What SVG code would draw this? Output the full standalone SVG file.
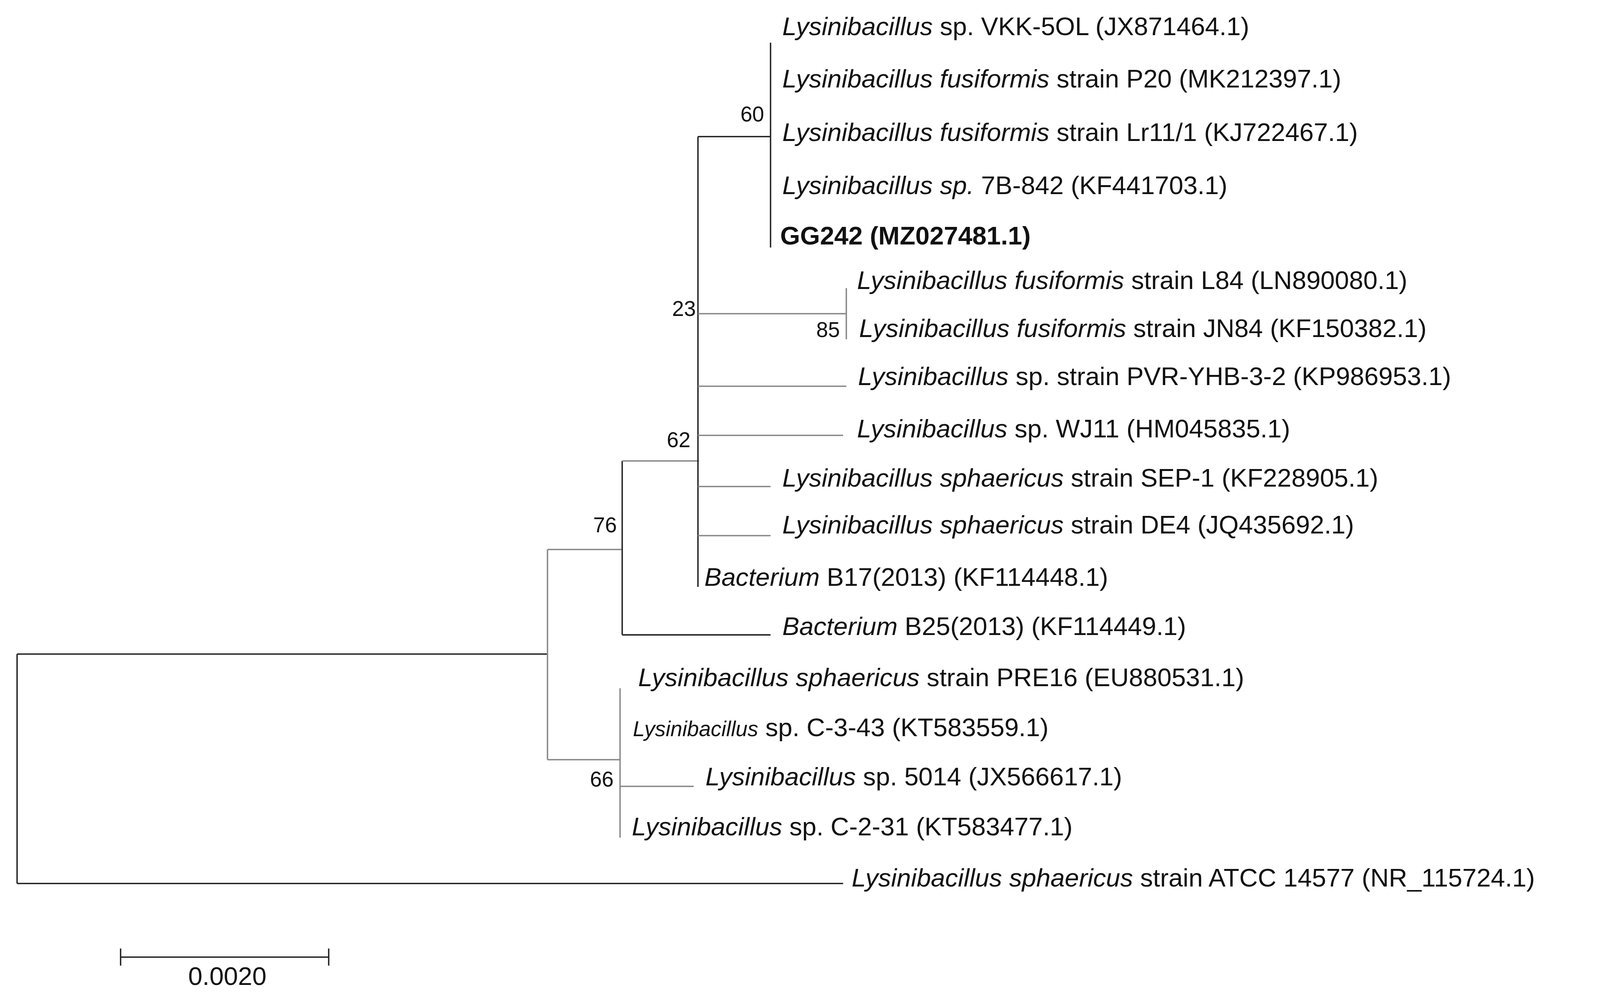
<svg xmlns="http://www.w3.org/2000/svg" width="4284" height="2558" viewBox="0 0 4284 2558">
<style>
.t{font-family:"Liberation Sans",Arial,sans-serif;font-size:24px;fill:#111}
.b{font-family:"Liberation Sans",Arial,sans-serif;font-size:20px;fill:#111;text-anchor:end}
.e{stroke:#222;stroke-width:1.3;fill:none}
.g{stroke:#888;stroke-width:1.3;fill:none}
</style>
<rect width="4284" height="2558" fill="#fff"/>
<g transform="scale(2.7321)">
<g id="connectors">
<path class="e" d="M16 613V828M16 613H513M16 828H790"/>
<path class="g" d="M513 515V712M513 515H583M513 712H581"/>
<path class="e" d="M583 432V595M583 595H722"/>
<path class="g" d="M583 432H655"/>
<path class="e" d="M654 128V550M654 128H722"/>
<path class="g" d="M654 294H793M654 362H793M654 408H790M654 456H722M654 502H722"/>
<path class="e" d="M722 40V232"/>
<path class="g" d="M793 270V318"/>
<path class="g" d="M581 645V785M581 737H650"/>
<path class="e" d="M113 897H308M113 889V905M308 889V905"/>
</g>
<g id="n1"><text class="t" x="733" y="33"><tspan font-style="italic">Lysinibacillus</tspan> sp. VKK-5OL (JX871464.1)</text></g>
<g id="n2"><text class="t" x="733" y="82"><tspan font-style="italic">Lysinibacillus fusiformis</tspan> strain P20 (MK212397.1)</text></g>
<g id="n3"><text class="t" x="733" y="132"><tspan font-style="italic">Lysinibacillus fusiformis</tspan> strain Lr11/1 (KJ722467.1)</text></g>
<g id="n4"><text class="t" x="733" y="182"><tspan font-style="italic">Lysinibacillus sp.</tspan> 7B-842 (KF441703.1)</text></g>
<g id="n5"><text class="t" x="731" y="229" font-weight="bold">GG242 (MZ027481.1)</text></g>
<g id="n6"><text class="t" x="803" y="271"><tspan font-style="italic">Lysinibacillus fusiformis</tspan> strain L84 (LN890080.1)</text></g>
<g id="n7"><text class="t" x="805" y="316"><tspan font-style="italic">Lysinibacillus fusiformis</tspan> strain JN84 (KF150382.1)</text></g>
<g id="n8"><text class="t" x="804" y="361"><tspan font-style="italic">Lysinibacillus</tspan> sp. strain PVR-YHB-3-2 (KP986953.1)</text></g>
<g id="n9"><text class="t" x="803" y="410"><tspan font-style="italic">Lysinibacillus</tspan> sp. WJ11 (HM045835.1)</text></g>
<g id="n10"><text class="t" x="733" y="456"><tspan font-style="italic">Lysinibacillus sphaericus</tspan> strain SEP-1 (KF228905.1)</text></g>
<g id="n11"><text class="t" x="733" y="500"><tspan font-style="italic">Lysinibacillus sphaericus</tspan> strain DE4 (JQ435692.1)</text></g>
<g id="n12"><text class="t" x="660" y="549"><tspan font-style="italic">Bacterium</tspan> B17(2013) (KF114448.1)</text></g>
<g id="n13"><text class="t" x="733" y="595"><tspan font-style="italic">Bacterium</tspan> B25(2013) (KF114449.1)</text></g>
<g id="n14"><text class="t" x="598" y="643"><tspan font-style="italic">Lysinibacillus sphaericus</tspan> strain PRE16 (EU880531.1)</text></g>
<g id="n15"><text class="t" x="593" y="690"><tspan font-style="italic" font-size="20">Lysinibacillus</tspan> sp. C-3-43 (KT583559.1)</text></g>
<g id="n16"><text class="t" x="661" y="736"><tspan font-style="italic">Lysinibacillus</tspan> sp. 5014 (JX566617.1)</text></g>
<g id="n17"><text class="t" x="592" y="783"><tspan font-style="italic">Lysinibacillus</tspan> sp. C-2-31 (KT583477.1)</text></g>
<g id="n18"><text class="t" x="798" y="831"><tspan font-style="italic">Lysinibacillus sphaericus</tspan> strain ATCC 14577 (NR_115724.1)</text></g>
<g id="boot">
<text class="b" x="716" y="114">60</text>
<text class="b" x="652" y="296">23</text>
<text class="b" x="787" y="316">85</text>
<text class="b" x="647" y="419">62</text>
<text class="b" x="578" y="499">76</text>
<text class="b" x="575" y="737">66</text>
</g>
<g id="scale"><text class="t" x="213" y="923" font-size="20" text-anchor="middle">0.0020</text></g>
</g>
</svg>
